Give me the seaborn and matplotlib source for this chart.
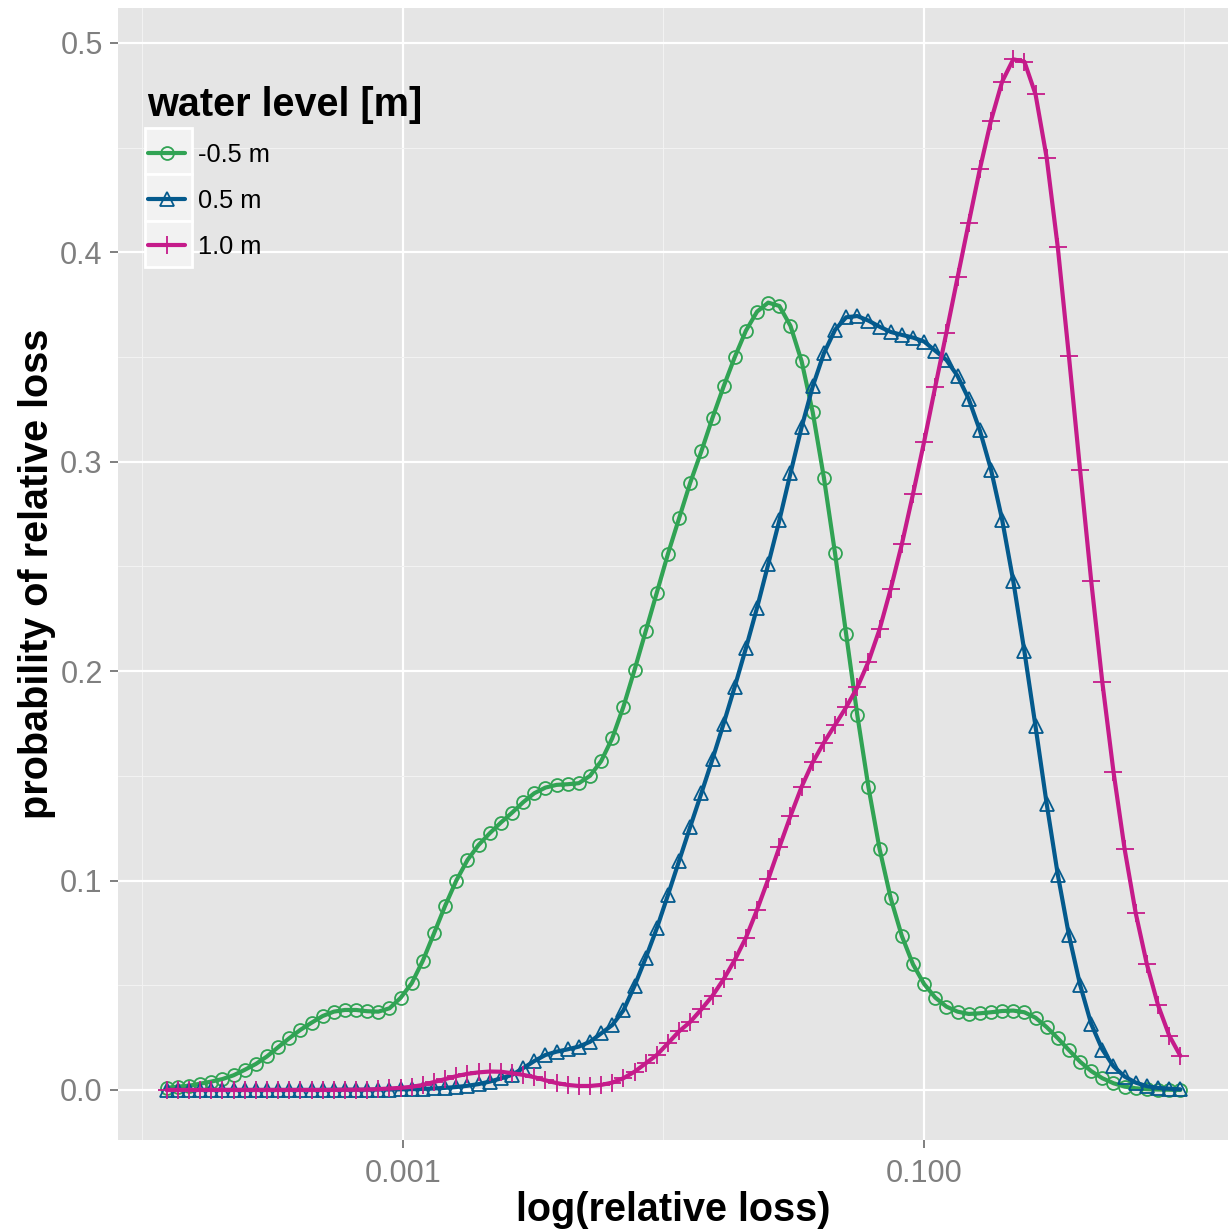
import matplotlib
matplotlib.use("Agg")
import matplotlib.pyplot as plt
from matplotlib.patches import Rectangle
from matplotlib.ticker import FixedLocator, NullFormatter
import numpy as np
import pandas as pd
import seaborn as sns

# Density curves of relative loss at 92 log-spaced points.
LEVELS = ["-0.5 m", "0.5 m", "1.0 m"]
COLORS = ["#31a354", "#045a8d", "#c51b8a"]
MARKERS = ["o", "^", "+"]
LOSS = np.logspace(-3.907, -0.016, 92)

DENS_M05 = [
    0.0010, 0.0016, 0.0020, 0.0030, 0.0040, 0.0052, 0.0070, 0.0096, 0.0124, 0.0160,
    0.0204, 0.0247, 0.0287, 0.0321, 0.0353, 0.0374, 0.0382, 0.0382, 0.0376, 0.0374,
    0.0390, 0.0440, 0.0510, 0.0618, 0.0748, 0.0880, 0.1000, 0.1098, 0.1170, 0.1226,
    0.1277, 0.1324, 0.1374, 0.1417, 0.1444, 0.1457, 0.1460, 0.1465, 0.1500, 0.1570,
    0.1680, 0.1830, 0.2006, 0.2190, 0.2375, 0.2560, 0.2730, 0.2900, 0.3050, 0.3210,
    0.3360, 0.3500, 0.3626, 0.3717, 0.3760, 0.3744, 0.3649, 0.3480, 0.3236, 0.2924,
    0.2563, 0.2176, 0.1790, 0.1446, 0.1151, 0.0915, 0.0735, 0.0600, 0.0506, 0.0441,
    0.0398, 0.0374, 0.0363, 0.0366, 0.0371, 0.0377, 0.0379, 0.0371, 0.0345, 0.0300,
    0.0247, 0.0190, 0.0135, 0.0090, 0.0056, 0.0032, 0.0016, 0.0008, 0.0004, 0.0002,
    0.0001, 0.0000,
]
DENS_05 = [
    0.0000, 0.0000, 0.0000, 0.0000, 0.0000, 0.0000, 0.0000, 0.0000, 0.0000, 0.0000,
    0.0000, 0.0000, 0.0000, 0.0000, 0.0000, 0.0001, 0.0001, 0.0001, 0.0001, 0.0002,
    0.0002, 0.0003, 0.0004, 0.0005, 0.0007, 0.0010, 0.0014, 0.0020, 0.0028, 0.0040,
    0.0055, 0.0072, 0.0104, 0.0138, 0.0167, 0.0183, 0.0194, 0.0207, 0.0230, 0.0270,
    0.0310, 0.0380, 0.0497, 0.0630, 0.0772, 0.0931, 0.1094, 0.1257, 0.1417, 0.1580,
    0.1750, 0.1926, 0.2110, 0.2303, 0.2510, 0.2720, 0.2945, 0.3165, 0.3360, 0.3518,
    0.3630, 0.3690, 0.3696, 0.3674, 0.3645, 0.3620, 0.3606, 0.3593, 0.3574, 0.3530,
    0.3486, 0.3410, 0.3300, 0.3150, 0.2963, 0.2724, 0.2431, 0.2095, 0.1736, 0.1367,
    0.1028, 0.0739, 0.0502, 0.0315, 0.0193, 0.0113, 0.0064, 0.0035, 0.0018, 0.0010,
    0.0006, 0.0003,
]
DENS_10 = [
    0.0000, 0.0000, 0.0000, 0.0000, 0.0000, 0.0000, 0.0000, 0.0000, 0.0000, 0.0000,
    0.0000, 0.0000, 0.0000, 0.0000, 0.0000, 0.0000, 0.0001, 0.0001, 0.0002, 0.0004,
    0.0007, 0.0010, 0.0015, 0.0024, 0.0038, 0.0052, 0.0066, 0.0077, 0.0084, 0.0088,
    0.0087, 0.0080, 0.0072, 0.0061, 0.0046, 0.0033, 0.0024, 0.0019, 0.0019, 0.0024,
    0.0035, 0.0056, 0.0087, 0.0127, 0.0167, 0.0223, 0.0280, 0.0325, 0.0385, 0.0450,
    0.0529, 0.0621, 0.0727, 0.0860, 0.1006, 0.1159, 0.1308, 0.1448, 0.1565, 0.1659,
    0.1743, 0.1828, 0.1923, 0.2045, 0.2200, 0.2393, 0.2607, 0.2846, 0.3096, 0.3359,
    0.3617, 0.3880, 0.4140, 0.4397, 0.4629, 0.4815, 0.4922, 0.4911, 0.4755, 0.4452,
    0.4024, 0.3503, 0.2961, 0.2430, 0.1946, 0.1519, 0.1150, 0.0843, 0.0600, 0.0405,
    0.0260, 0.0163,
]

X_TICKS = [0.001, 0.1]
X_TICK_LABELS = ["0.001", "0.100"]
X_MINOR = [1e-4, 1e-2, 1.0]
Y_TICKS = [0.0, 0.1, 0.2, 0.3, 0.4, 0.5]
Y_MINOR = [0.05, 0.15, 0.25, 0.35, 0.45]

frame = pd.concat([
    pd.DataFrame({"loss": LOSS, "density": d, "level": lvl})
    for lvl, d in zip(LEVELS, [DENS_M05, DENS_05, DENS_10])
], ignore_index=True)

sns.set_theme(style="darkgrid", rc={
    "axes.facecolor": "#E5E5E5", "grid.color": "white",
    "axes.spines.top": False, "axes.spines.right": False,
    "axes.spines.left": False, "axes.spines.bottom": False,
    "axes.labelcolor": "black", "text.color": "black",
})
plt.rcParams["font.family"] = ["Liberation Sans", "DejaVu Sans"]

fig = plt.figure(figsize=(12.32, 12.31), dpi=100)
ax = fig.add_axes([118 / 1232, 1 - 1140 / 1231, 1110 / 1232, 1132 / 1231])
ax.set_xscale("log")

marker_sizes = {"o": 9.3, "^": 10, "+": 13}
for lvl, col, mk in zip(LEVELS, COLORS, MARKERS):
    sns.lineplot(data=frame[frame["level"] == lvl], x="loss", y="density",
                 estimator=None, color=col, linewidth=3.0, marker=mk,
                 markersize=marker_sizes[mk], fillstyle="none",
                 markeredgecolor=col, markeredgewidth=1.3, label=lvl, ax=ax)

ax.set_xlim(10 ** -4.094, 10 ** 0.167)
ax.set_ylim(-0.0239, 0.5167)
ax.xaxis.set_major_locator(FixedLocator(X_TICKS))
ax.set_xticklabels(X_TICK_LABELS)
ax.xaxis.set_minor_locator(FixedLocator(X_MINOR))
ax.xaxis.set_minor_formatter(NullFormatter())
ax.set_yticks(Y_TICKS)
ax.set_yticklabels([f"{v:.1f}" for v in Y_TICKS])
ax.yaxis.set_minor_locator(FixedLocator(Y_MINOR))

ax.grid(which="major", color="white", linewidth=1.6)
ax.grid(which="minor", color="#F2F2F2", linewidth=0.8)
ax.tick_params(which="major", length=6, width=1.4, color="#7F7F7F",
               labelcolor="#7F7F7F", labelsize=22, bottom=True, left=True)
ax.tick_params(axis="x", which="major", pad=8)
ax.tick_params(axis="y", which="major", pad=5)
ax.tick_params(which="minor", length=0)

ax.set_xlabel("log(relative loss)", fontsize=28.5, fontweight="bold", labelpad=1)
ax.set_ylabel("probability of relative loss", fontsize=28.5, fontweight="bold",
              labelpad=3)

# legend key backgrounds (ggplot style)
for k in range(3):
    top = 128 + k * 46.3
    ax.add_patch(Rectangle(((145 - 118) / 1110, 1 - (top + 46.3 - 8) / 1132),
                           47 / 1110, 46.3 / 1132, transform=ax.transAxes,
                           facecolor="#F2F2F2", edgecolor="white", linewidth=2.0,
                           zorder=4))

ax.text((147 - 118) / 1110, 1 - (116 - 8) / 1132, "water level [m]",
        transform=ax.transAxes, fontsize=28.5, fontweight="bold",
        color="black", ha="left", va="baseline", zorder=5)

leg = ax.legend(loc="upper left", bbox_to_anchor=((148 - 118) / 1110, 1 - (143 - 8) / 1132),
                frameon=False, fontsize=18.3, handlelength=1.46, handletextpad=0.5,
                labelspacing=0.86, borderpad=0, borderaxespad=0)
leg.set_zorder(5)
for t in leg.get_texts():
    t.set_color("black")

fig.savefig("out.png", dpi=100)
